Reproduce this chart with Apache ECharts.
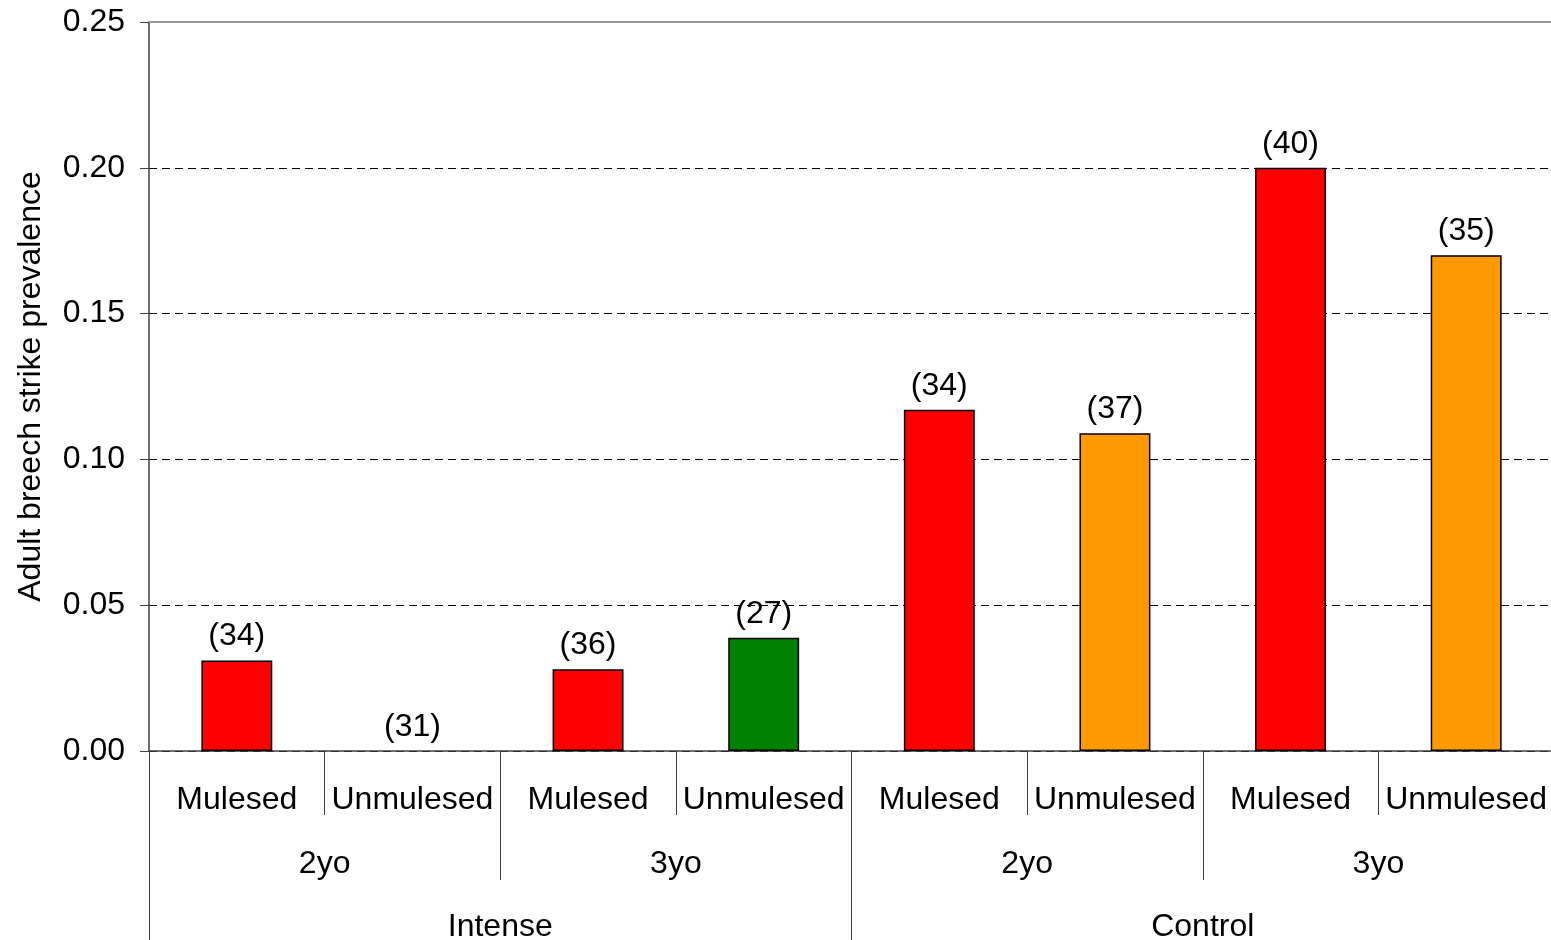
<!DOCTYPE html>
<html>
<head>
<meta charset="utf-8">
<script src="https://cdn.jsdelivr.net/npm/echarts@6/dist/echarts.min.js"></script>
<style>
html,body{margin:0;padding:0;background:#fff;}
#chart{width:1551px;height:940px;}
</style>
</head>
<body>
<div id="chart"></div>
<script>
// Data
const treatments = ['Mulesed','Unmulesed','Mulesed','Unmulesed','Mulesed','Unmulesed','Mulesed','Unmulesed'];
const ages = ['2yo','3yo','2yo','3yo'];
const regimes = ['Intense','Control'];
const prevalence = [0.031, 0, 0.028, 0.0388, 0.117, 0.109, 0.200, 0.170];
const sampleSizes = [34, 31, 36, 27, 34, 37, 40, 35];
const yTicks = [0, 0.05, 0.10, 0.15, 0.20, 0.25];

// Styles
const barColors = ['#FF0000','#FFFFFF','#FF0000','#008000','#FF0000','#FF9900','#FF0000','#FF9900'];
const FONT = 'Liberation Sans, Arial, sans-serif';
const FS = 32;
const AX = '#404040';

const chart = echarts.init(document.getElementById('chart'), null, {renderer:'canvas'});
chart.setOption({
  animation:false,
  backgroundColor:'#fff',
  textStyle:{fontFamily:FONT},
  grid:{left:149, right:-3, top:22, bottom:189, containLabel:false, outerBoundsMode:'none'},
  xAxis:[
    {type:'category', data:treatments, position:'bottom', gridIndex:0,
     axisLine:{show:true, lineStyle:{color:AX, width:1.5}},
     axisTick:{show:true, interval:0, length:64, lineStyle:{color:AX, width:1}},
     axisLabel:{interval:0, margin:33, fontSize:FS, color:'#000', fontFamily:FONT},
     splitLine:{show:false}},
    {type:'category', data:ages, position:'bottom', gridIndex:0,
     axisLine:{show:false},
     axisTick:{show:true, interval:0, length:129, lineStyle:{color:AX, width:1}},
     axisLabel:{interval:0, margin:97, fontSize:FS, color:'#000', fontFamily:FONT},
     splitLine:{show:false}},
    {type:'category', data:regimes, position:'bottom', gridIndex:0,
     axisLine:{show:false},
     axisTick:{show:true, interval:0, length:189, lineStyle:{color:AX, width:1}},
     axisLabel:{interval:0, margin:160, fontSize:FS, color:'#000', fontFamily:FONT},
     splitLine:{show:false}},
    {type:'category', data:regimes, position:'top', gridIndex:0,
     axisLine:{show:true, lineStyle:{color:'#999', width:2}},
     axisTick:{show:false}, axisLabel:{show:false}, splitLine:{show:false}}
  ],
  yAxis:{
    type:'value', min:yTicks[0], max:yTicks[yTicks.length-1], interval:0.05,
    name:'Adult breech strike prevalence', nameLocation:'middle', nameGap:102,
    nameTextStyle:{fontSize:FS, color:'#000', fontFamily:FONT},
    axisLine:{show:true, lineStyle:{color:AX, width:1.5}},
    axisTick:{show:true, length:9, lineStyle:{color:AX, width:1}},
    axisLabel:{margin:24, fontSize:FS, color:'#000', fontFamily:FONT, formatter:v=>v.toFixed(2)},
    splitLine:{show:true, lineStyle:{color:'#000', width:1, type:[8,5]}}
  },
  series:[{
    type:'bar', xAxisIndex:0,
    barWidth:'40.4%',
    data:prevalence.map((v,i)=>({value:v, itemStyle:{color:barColors[i], borderColor:'#000', borderWidth: v>0?1.5:0}})),
    label:{show:true, position:'top', distance:8, fontSize:FS, color:'#000', fontFamily:FONT,
      formatter:p=>'('+sampleSizes[p.dataIndex]+')'}
  }]
});
</script>
</body>
</html>
